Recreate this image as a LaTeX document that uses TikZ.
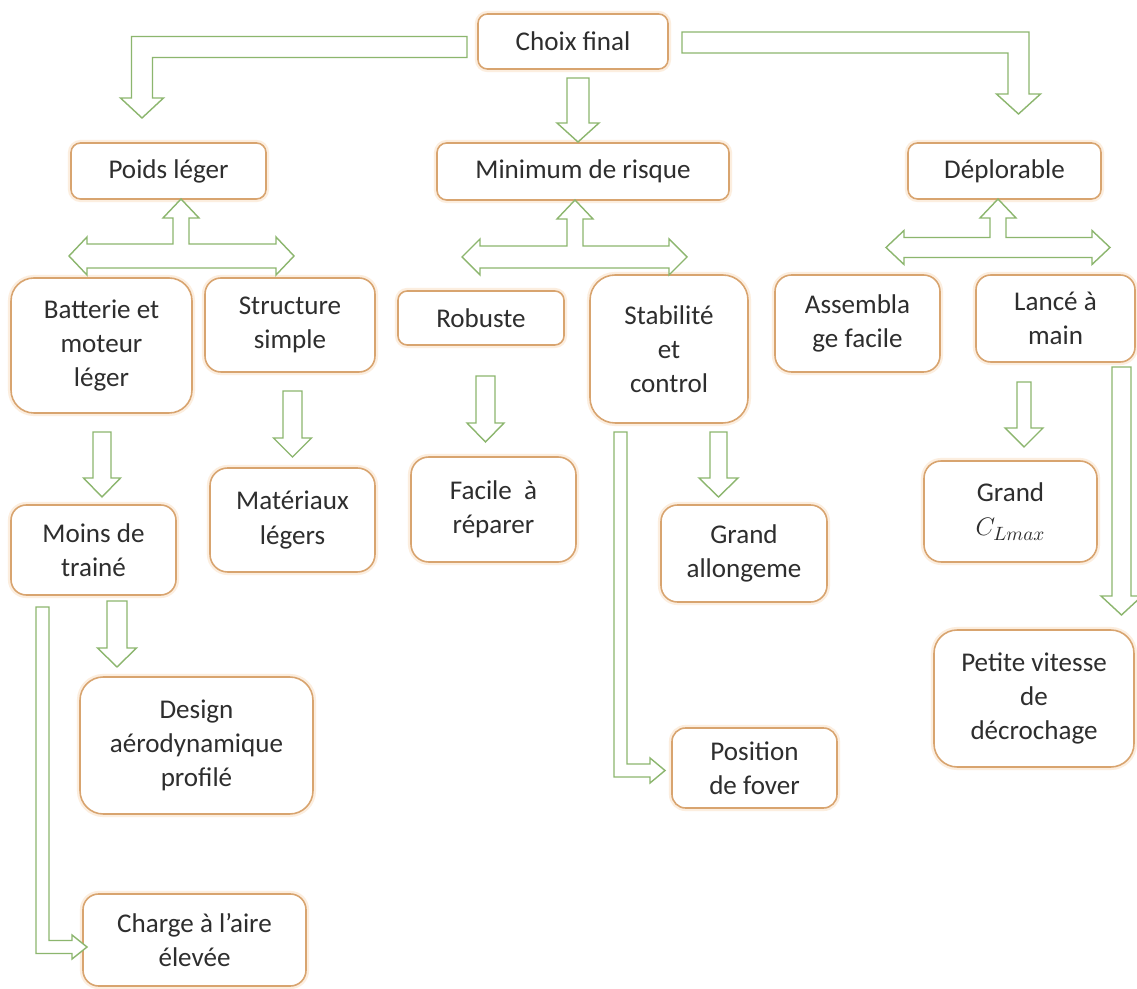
\documentclass[tikz,border=0pt]{standalone}
\usepackage{fontspec}
\setmainfont{Carlito}
\usetikzlibrary{calc}
\definecolor{choixOrange}{HTML}{D8A46F}
\definecolor{choixGlow}{HTML}{FCEEDF}
\definecolor{choixGreen}{HTML}{8CB66E}
\definecolor{choixText}{HTML}{2E2E2E}
\tikzset{
  critere/.style 2 args={draw=choixOrange, line width=0.9pt, fill=white,
    preaction={draw=choixGlow, line width=3.5pt},
    rounded corners={min(#1,#2)*0.0034cm}, align=center, text=choixText,
    font=\fontsize{15.4}{19.4}\selectfont, inner sep=0pt,
    minimum width={#1*0.02cm}, minimum height={#2*0.02cm}},
  fleche/.style={draw=choixGreen, line width=0.8pt, fill=white,
    line join=miter}
}
% hollow block arrows (y axis points down in the picture)
\newcommand{\flechebas}[4]{%
  \draw[fleche] ($(#1)+(-#3,0)$) -- ($(#2)+(-#3,-19)$) -- ($(#2)+(-#4,-19)$)
    -- (#2) -- ($(#2)+(#4,-19)$) -- ($(#2)+(#3,-19)$) -- ($(#1)+(#3,0)$)
    -- cycle;}
\newcommand{\flechecoude}[5]{%
  \coordinate (coude) at (#2 |- #1);
  \draw[fleche] ($(#1)+(0,-#4)$) -- ($(coude)+({(#3)*(#4)},-#4)$)
    -- ($(#2)+({(#3)*(#4)},-20)$) -- ($(#2)+({(#3)*(#5)},-20)$) -- (#2)
    -- ($(#2)+({-(#3)*(#5)},-20)$) -- ($(#2)+({-(#3)*(#4)},-20)$)
    -- ($(coude)+({-(#3)*(#4)},#4)$) -- ($(#1)+(0,#4)$) -- cycle;}
\newcommand{\flecheretour}[4]{%
  \coordinate (coude) at (#1 |- #2);
  \draw[fleche] ($(#1)+(-#3,0)$) -- ($(coude)+(-#3,#3)$) -- ($(#2)+(-15,#3)$)
    -- ($(#2)+(-15,#4)$) -- (#2) -- ($(#2)+(-15,-#4)$) -- ($(#2)+(-15,-#3)$)
    -- ($(coude)+(#3,-#3)$) -- ($(#1)+(#3,0)$) -- cycle;}
\newcommand{\flecheT}[6]{%
  \draw[fleche] (#2) -- ($(#2)+(18,19)$) -- ($(#2)+(8,19)$) -- ($(#1)+(8,-#5)$)
    -- ($(#4)+(-18,-#5)$) -- ($(#4)+(-18,-#6)$) -- (#4) -- ($(#4)+(-18,#6)$)
    -- ($(#4)+(-18,#5)$) -- ($(#3)+(18,#5)$) -- ($(#3)+(18,#6)$) -- (#3)
    -- ($(#3)+(18,-#6)$) -- ($(#3)+(18,-#5)$) -- ($(#1)+(-8,-#5)$)
    -- ($(#2)+(-8,19)$) -- ($(#2)+(-18,19)$) -- cycle;}

\begin{document}
\begin{tikzpicture}[x=0.02cm, y=-0.02cm]
  \useasboundingbox[fill=white] (0,0) rectangle (1137,989);

  \node[critere={190}{55}] (choix) at (573,41.5) {Choix final};

  \node[critere={195}{56}] (poids) at (168.5,171) {Poids léger};
  \node[critere={292}{57}] (risque) at (583,171.5) {Minimum de risque};
  \node[critere={193}{56}] (deplo) at (1004.5,171) {Déplorable};

  \node[critere={181}{135}] (batterie) at (101.5,345.5)
    {Batterie et\\moteur\\léger};
  \node[critere={170}{94}] (structure) at (290,325) {Structure\\simple};
  \node[critere={166}{54}] (robuste) at (481,318) {Robuste};
  \node[critere={158}{148}] (stabilite) at (669,349)
    {Stabilité\\et\\control};
  \node[critere={165}{97}] (assemblage) at (857.5,323.5)
    {Assembla\\ge facile};
  \node[critere={159}{87}] (lance) at (1055.5,318.5) {Lancé à\\main};

  \node[critere={165}{90}] (moins) at (93.5,550) {Moins de\\trainé};
  \node[critere={165}{104}] (materiaux) at (292.5,520)
    {Matériaux\\légers};
  \node[critere={165}{105}] (facile) at (493.5,509.5)
    {Facile\ \ à\\réparer};
  \node[critere={166}{97}] (allongement) at (744,553.5)
    {Grand\\allongeme};
  \node[critere={173}{101}] (grandcl) at (1010.5,511.5)
    {Grand\\$C_{Lmax}$};

  \node[critere={233}{137}] (design) at (196.5,745.5)
    {Design\\aérodynamique\\profilé};
  \node[critere={165}{80}] (position) at (754.5,768) {Position\\de fover};
  \node[critere={200}{137}] (petite) at (1034,698.5)
    {Petite vitesse\\de\\décrochage};
  \node[critere={223}{92}] (charge) at (194.5,940)
    {Charge à l’aire\\élevée};

  % first level
  \coordinate (cp-s) at (467,47);     \coordinate (cp-t) at (142,118);
  \coordinate (cr-s) at (578,78);     \coordinate (cr-t) at (578,142);
  \coordinate (cd-s) at (682,42.5);   \coordinate (cd-t) at (1018.5,114);
  \flechecoude{cp-s}{cp-t}{-1}{10.5}{21.5}
  \flechebas{cr-s}{cr-t}{11}{21}
  \flechecoude{cd-s}{cd-t}{1}{10.5}{22}

  % splits
  \coordinate (pt-c) at (181,256);    \coordinate (pt-u) at (181,199);
  \coordinate (pt-l) at (69,256);     \coordinate (pt-r) at (294,256);
  \flecheT{pt-c}{pt-u}{pt-l}{pt-r}{12}{19}
  \coordinate (rt-c) at (575,257);    \coordinate (rt-u) at (575,200);
  \coordinate (rt-l) at (462,257);    \coordinate (rt-r) at (687,257);
  \flecheT{rt-c}{rt-u}{rt-l}{rt-r}{11}{18}
  \coordinate (dt-c) at (998,247.5);  \coordinate (dt-u) at (998,199);
  \coordinate (dt-l) at (886,247.5);  \coordinate (dt-r) at (1110,247.5);
  \flecheT{dt-c}{dt-u}{dt-l}{dt-r}{10}{17}

  % lower levels
  \coordinate (bm-s) at (102,432);    \coordinate (bm-t) at (102,497);
  \coordinate (sm-s) at (292.5,391);  \coordinate (sm-t) at (292.5,457);
  \coordinate (rf-s) at (485.5,376);  \coordinate (rf-t) at (485.5,442);
  \coordinate (md-s) at (117,601);    \coordinate (md-t) at (117,667);
  \coordinate (sa-s) at (718.5,432);  \coordinate (sa-t) at (718.5,497);
  \coordinate (lg-s) at (1024,382);   \coordinate (lg-t) at (1024,447);
  \coordinate (lp-s) at (1121.5,367); \coordinate (lp-t) at (1121.5,615);
  \flechebas{bm-s}{bm-t}{9}{18.5}
  \flechebas{sm-s}{sm-t}{9.5}{19}
  \flechebas{rf-s}{rf-t}{9.5}{18.5}
  \flechebas{md-s}{md-t}{10}{19.5}
  \flechebas{sa-s}{sa-t}{8.5}{19.5}
  \flechebas{lg-s}{lg-t}{7}{19}
  \flechebas{lp-s}{lp-t}{9.5}{20.5}

  \coordinate (mc-s) at (42.5,607);   \coordinate (mc-t) at (87,947);
  \coordinate (sp-s) at (620.5,432);  \coordinate (sp-t) at (665,770.5);
  \flecheretour{mc-s}{mc-t}{6.5}{12}
  \flecheretour{sp-s}{sp-t}{6.5}{12.5}
\end{tikzpicture}
\end{document}
